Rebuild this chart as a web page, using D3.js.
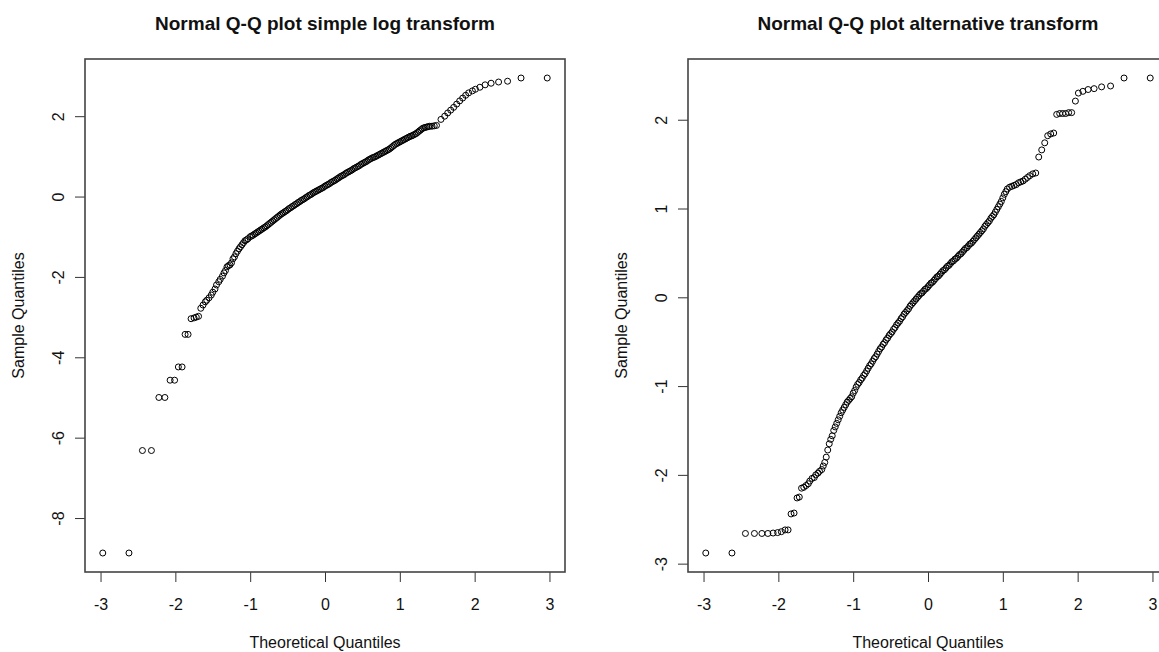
<!DOCTYPE html>
<html>
<head>
<meta charset="utf-8">
<script src="https://cdn.jsdelivr.net/npm/d3@7"></script>
<style>
  body { margin: 0; background: #fff; }
  svg { display: block; }
  text { font-family: "Liberation Sans", Arial, Helvetica, sans-serif; fill: #111; }
</style>
</head>
<body>
<script>
// values: theoretical quantile / sample quantile
const logTheo = [
  -2.97,-2.62,-2.44,-2.32,-2.22,-2.14,-2.07,-2.01,-1.96,-1.91,-1.87,-1.83,-1.79,-1.75,-1.72,-1.69,
  -1.66,-1.63,-1.60,-1.58,-1.55,-1.52,-1.50,-1.47,-1.45,-1.42,-1.40,-1.37,-1.35,-1.33,-1.31,-1.29,-1.27,-1.25,-1.23,-1.21,
  -1.19,-1.17,-1.15,-1.13,-1.11,-1.09,-1.07,-1.05,-1.03,
  -1.00,-0.98,-0.96,-0.94,-0.92,-0.90,-0.88,-0.86,-0.84,-0.82,
  -0.80,-0.78,-0.76,-0.74,-0.72,-0.70,-0.68,-0.66,-0.64,-0.62,
  -0.60,-0.58,-0.56,-0.54,-0.52,-0.50,-0.48,-0.46,-0.44,-0.42,
  -0.40,-0.38,-0.36,-0.34,-0.32,-0.30,-0.28,-0.26,-0.24,-0.22,
  -0.20,-0.18,-0.16,-0.14,-0.12,-0.10,-0.08,-0.06,-0.04,-0.02,
  0.00,0.02,0.04,0.06,0.08,0.10,0.12,0.14,0.16,0.18,
  0.20,0.22,0.24,0.26,0.28,0.30,0.32,0.34,0.36,0.38,
  0.40,0.42,0.44,0.46,0.48,0.50,0.52,0.54,0.56,0.58,
  0.60,0.62,0.64,0.66,0.68,0.70,0.72,0.74,0.76,0.78,
  0.80,0.82,0.84,0.86,0.88,0.90,0.92,0.94,0.96,0.98,
  1.00,1.02,1.04,1.06,1.08,1.10,1.12,1.14,1.16,1.18,
  1.20,1.22,1.24,1.26,1.28,1.30,1.32,1.34,1.36,1.38,
  1.40,1.43,1.46,1.49,
  1.55,1.60,1.64,1.68,1.72,1.76,1.80,1.84,1.88,1.92,1.97,2.01,2.07,2.14,2.22,2.32,2.44,2.62,2.97];
const logSample = [
  -8.87,-8.87,-6.32,-6.32,-5.00,-5.00,-4.57,-4.57,-4.24,-4.24,-3.43,-3.43,-3.04,-3.02,-3.00,-2.98,
  -2.78,-2.70,-2.62,-2.58,-2.52,-2.45,-2.38,-2.30,-2.20,-2.12,-2.06,-1.98,-1.90,-1.84,-1.75,-1.72,-1.70,-1.65,-1.55,-1.50,
  -1.42,-1.36,-1.30,-1.25,-1.20,-1.15,-1.10,-1.08,-1.05,
  -1.00,-0.98,-0.96,-0.93,-0.91,-0.88,-0.86,-0.83,-0.81,-0.78,
  -0.76,-0.73,-0.70,-0.67,-0.64,-0.61,-0.58,-0.55,-0.52,-0.49,
  -0.46,-0.43,-0.41,-0.38,-0.36,-0.33,-0.30,-0.28,-0.25,-0.23,
  -0.20,-0.18,-0.15,-0.13,-0.10,-0.08,-0.06,-0.03,-0.01,0.02,
  0.04,0.06,0.09,0.11,0.13,0.15,0.17,0.19,0.21,0.23,
  0.26,0.28,0.30,0.32,0.35,0.37,0.39,0.41,0.44,0.46,
  0.49,0.51,0.53,0.55,0.58,0.60,0.62,0.64,0.66,0.69,
  0.71,0.73,0.75,0.77,0.80,0.82,0.84,0.86,0.88,0.91,
  0.93,0.95,0.97,0.98,1.00,1.02,1.04,1.06,1.08,1.10,
  1.12,1.14,1.16,1.18,1.21,1.24,1.27,1.30,1.32,1.34,
  1.36,1.38,1.40,1.42,1.44,1.46,1.48,1.50,1.51,1.53,
  1.55,1.57,1.60,1.63,1.66,1.69,1.71,1.72,1.73,1.74,
  1.75,1.75,1.76,1.77,
  1.92,2.00,2.08,2.15,2.22,2.30,2.38,2.45,2.52,2.58,2.63,2.67,2.72,2.78,2.82,2.85,2.87,2.95,2.95];

const altTheo = [
  -2.97,-2.62,-2.44,-2.32,-2.22,-2.14,-2.07,-2.01,-1.96,-1.91,-1.87,-1.83,-1.79,-1.75,-1.72,-1.69,
  -1.66,-1.63,-1.60,-1.58,-1.55,-1.52,-1.50,-1.47,-1.45,-1.42,
  -1.40,-1.38,-1.36,-1.34,-1.32,-1.30,-1.28,-1.26,-1.24,-1.22,
  -1.20,-1.18,-1.16,-1.14,-1.12,-1.10,-1.08,-1.06,-1.04,
  -1.02,-1.00,-0.98,-0.96,-0.94,-0.92,-0.90,-0.88,-0.86,-0.84,
  -0.82,-0.80,-0.78,-0.76,-0.74,-0.72,-0.70,-0.68,-0.66,-0.64,
  -0.62,-0.60,-0.58,-0.56,-0.54,-0.52,-0.50,-0.48,-0.46,-0.44,
  -0.42,-0.40,-0.38,-0.36,-0.34,-0.32,-0.30,-0.28,-0.26,-0.24,
  -0.22,-0.20,-0.18,-0.16,-0.14,-0.12,-0.10,-0.08,-0.06,-0.04,
  -0.02,0.00,0.02,0.04,0.06,0.08,0.10,0.12,0.14,0.16,
  0.18,0.20,0.22,0.24,0.26,0.28,0.30,0.32,0.34,0.36,
  0.38,0.40,0.42,0.44,0.46,0.48,0.50,0.52,0.54,0.56,
  0.58,0.60,0.62,0.64,0.66,0.68,0.70,0.72,0.74,0.76,
  0.78,0.80,0.82,0.84,0.86,0.88,0.90,0.92,0.94,0.96,
  0.98,1.00,1.02,1.04,
  1.06,1.09,1.12,1.15,1.18,1.21,1.24,1.27,1.30,1.33,1.36,1.40,1.44,
  1.48,1.52,1.56,1.60,1.64,1.68,1.72,1.76,1.80,1.84,1.88,1.92,1.97,2.01,2.07,2.14,2.22,2.32,2.44,2.62,2.97];
const altSample = [
  -2.88,-2.88,-2.66,-2.66,-2.66,-2.66,-2.655,-2.65,-2.64,-2.62,-2.62,-2.44,-2.43,-2.26,-2.25,-2.15,
  -2.14,-2.12,-2.10,-2.07,-2.04,-2.03,-2.00,-1.98,-1.96,-1.94,
  -1.90,-1.86,-1.80,-1.72,-1.65,-1.60,-1.56,-1.50,-1.46,-1.42,
  -1.38,-1.34,-1.30,-1.27,-1.24,-1.21,-1.18,-1.16,-1.14,
  -1.12,-1.08,-1.05,-1.01,-0.98,-0.96,-0.93,-0.91,-0.88,-0.86,
  -0.83,-0.80,-0.77,-0.75,-0.72,-0.69,-0.67,-0.64,-0.61,-0.58,
  -0.56,-0.53,-0.51,-0.48,-0.46,-0.43,-0.41,-0.39,-0.36,-0.34,
  -0.31,-0.29,-0.27,-0.24,-0.22,-0.19,-0.17,-0.15,-0.13,-0.10,
  -0.08,-0.06,-0.04,-0.02,0.00,0.02,0.04,0.05,0.07,0.09,
  0.10,0.12,0.14,0.16,0.17,0.19,0.21,0.23,0.24,0.26,
  0.28,0.30,0.31,0.33,0.35,0.36,0.38,0.40,0.41,0.43,
  0.44,0.46,0.48,0.49,0.51,0.53,0.55,0.56,0.58,0.60,
  0.61,0.63,0.65,0.67,0.69,0.71,0.73,0.75,0.77,0.80,
  0.82,0.84,0.86,0.89,0.91,0.93,0.96,0.99,1.02,1.05,
  1.08,1.12,1.16,1.19,
  1.22,1.24,1.25,1.26,1.27,1.29,1.30,1.31,1.33,1.35,1.37,1.39,1.40,
  1.58,1.66,1.74,1.82,1.84,1.85,2.06,2.07,2.07,2.07,2.08,2.08,2.21,2.30,2.32,2.34,2.35,2.37,2.38,2.47,2.47];

const xTicks = [-3, -2, -1, 0, 1, 2, 3];
const logYTicks = [-8, -6, -4, -2, 0, 2];
const altYTicks = [-3, -2, -1, 0, 1, 2];

const W = 1159, H = 652;
const box = { left: 85, top: 59, width: 480, height: 513 };
const panelShift = 603;

const svg = d3.select('body').append('svg')
  .attr('width', W)
  .attr('height', H);

// R style: extend the data range 4% on each side
function rRange(vals) {
  const [lo, hi] = d3.extent(vals);
  const pad = (hi - lo) * 0.04;
  return [lo - pad, hi + pad];
}

// R prints a plain hyphen for negative tick labels
const plain = d => String(d);

function qqPanel(offsetX, title, theo, sample, yTicks) {
  const g = svg.append('g').attr('transform', `translate(${offsetX + box.left},${box.top})`);

  const x = d3.scaleLinear().domain(rRange(theo)).range([0, box.width]);
  const y = d3.scaleLinear().domain(rRange(sample)).range([box.height, 0]);

  const pts = theo.map((t, i) => ({ t, s: sample[i] }));

  g.selectAll('circle.pt')
    .data(pts)
    .enter().append('circle')
    .attr('class', 'pt')
    .attr('cx', d => x(d.t))
    .attr('cy', d => y(d.s))
    .attr('r', 3)
    .attr('fill', 'none')
    .attr('stroke', '#000')
    .attr('stroke-width', 1);

  // x axis
  const xa = g.append('g')
    .attr('transform', `translate(0,${box.height})`)
    .call(d3.axisBottom(x).tickValues(xTicks).tickSize(10).tickFormat(plain));
  xa.select('.domain').remove();
  xa.selectAll('line').attr('stroke', '#333');
  xa.selectAll('text')
    .attr('y', 38).attr('dy', 0)
    .style('font-size', '16px')
    .style('font-family', '"Liberation Sans", Arial, sans-serif')
    .attr('fill', '#111');

  // y axis, labels parallel to the axis
  const ya = g.append('g')
    .call(d3.axisLeft(y).tickValues(yTicks).tickSize(10).tickFormat(plain));
  ya.select('.domain').remove();
  ya.selectAll('line').attr('stroke', '#333');
  ya.selectAll('text')
    .attr('x', 0).attr('y', -27).attr('dy', '0.36em')
    .attr('transform', 'rotate(-90)')
    .attr('text-anchor', 'middle')
    .style('font-size', '16px')
    .style('font-family', '"Liberation Sans", Arial, sans-serif')
    .attr('fill', '#111');

  // plot frame
  g.append('rect')
    .attr('width', box.width)
    .attr('height', box.height)
    .attr('fill', 'none')
    .attr('stroke', '#444')
    .attr('stroke-width', 1.6);

  g.append('text')
    .attr('x', box.width / 2)
    .attr('y', -29)
    .attr('text-anchor', 'middle')
    .style('font-size', '19px')
    .style('font-weight', 'bold')
    .text(title);

  g.append('text')
    .attr('x', box.width / 2)
    .attr('y', box.height + 76)
    .attr('text-anchor', 'middle')
    .style('font-size', '16px')
    .text('Theoretical Quantiles');

  g.append('text')
    .attr('transform', `translate(${-67},${box.height / 2}) rotate(-90)`)
    .attr('dy', '0.36em')
    .attr('text-anchor', 'middle')
    .style('font-size', '16px')
    .text('Sample Quantiles');
}

qqPanel(0, 'Normal Q-Q plot simple log transform', logTheo, logSample, logYTicks);
qqPanel(panelShift, 'Normal Q-Q plot alternative transform', altTheo, altSample, altYTicks);
</script>
</body>
</html>
